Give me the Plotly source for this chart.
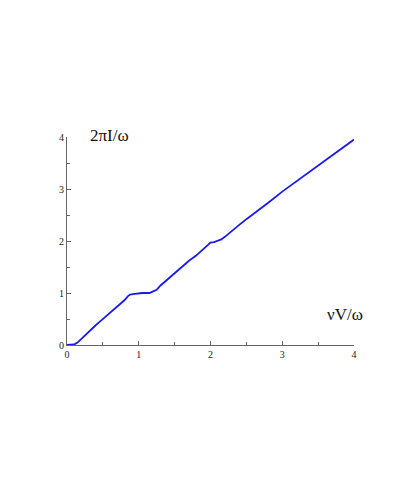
import plotly.graph_objects as go

x_vals = [0, 0.05, 0.1, 0.15, 0.2, 0.25, 0.3, 0.35, 0.4, 0.45, 0.5, 0.55, 0.6, 0.65,
          0.7, 0.75, 0.8, 0.85, 0.88, 0.92, 0.96, 1.0, 1.05, 1.1, 1.15, 1.2, 1.25,
          1.3, 1.35, 1.4, 1.5, 1.6, 1.7, 1.8, 1.9, 1.95, 2.0, 2.05, 2.1, 2.15, 2.2,
          2.3, 2.4, 2.5, 2.6, 2.8, 3.0, 3.2, 3.4, 3.6, 3.8, 4.0]
y_vals = [0, 0, 0.01, 0.05, 0.12, 0.19, 0.25, 0.32, 0.38, 0.44, 0.5, 0.56, 0.62, 0.67,
          0.73, 0.79, 0.86, 0.94, 0.97, 0.98, 0.99, 1.0, 1.0, 1.0, 1.0, 1.03, 1.06,
          1.14, 1.2, 1.27, 1.39, 1.5, 1.62, 1.72, 1.84, 1.91, 1.97, 1.98, 2.0, 2.03, 2.08,
          2.2, 2.31, 2.42, 2.52, 2.73, 2.95, 3.15, 3.35, 3.55, 3.75, 3.95]
tick_vals = [0, 1, 2, 3, 4]
y_label = "2πI/ω"
x_label = "νV/ω"

fig = go.Figure()
fig.add_trace(go.Scatter(x=x_vals, y=y_vals, mode="lines",
                         line=dict(color="#1a1aee", width=1.8), showlegend=False,
                         cliponaxis=False))

axis_common = dict(
    showgrid=False, zeroline=False, showline=True, linecolor="#666", linewidth=1,
    ticks="inside", ticklen=4, tickcolor="#666", tickvals=tick_vals,
    tickfont=dict(family="Liberation Serif", size=10, color="#222"),
    minor=dict(ticks="inside", ticklen=3, dtick=0.5, tickcolor="#666"),
)
fig.update_xaxes(range=[0, 4], **axis_common)
fig.update_yaxes(range=[0, 4], **axis_common)

fig.add_annotation(x=0.29, xref="x", y=1.0075, yref="paper", text=y_label,
                   showarrow=False, xanchor="left", yanchor="middle",
                   font=dict(family="Liberation Serif", size=17, color="#111"))
fig.add_annotation(x=3.6, y=0.58, text=x_label, showarrow=False, xanchor="left",
                   font=dict(family="Liberation Serif", size=17, color="#111"))

fig.update_layout(width=415, height=485, margin=dict(l=59, r=69, t=129, b=148),
                  plot_bgcolor="white", paper_bgcolor="white")
fig.write_html("out.html")
